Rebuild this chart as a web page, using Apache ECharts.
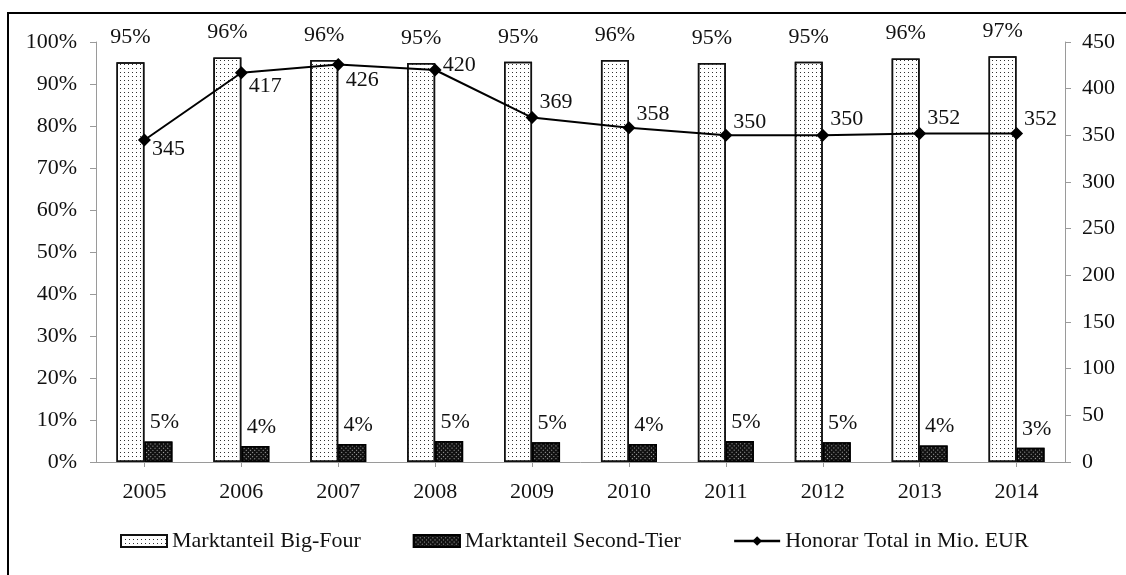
<!DOCTYPE html>
<html>
<head>
<meta charset="utf-8">
<script src="https://cdn.jsdelivr.net/npm/echarts@6/dist/echarts.min.js"></script>
<style>
html,body{margin:0;padding:0;background:#fff;}
#c{width:1126px;height:575px;}
</style>
</head>
<body>
<div id="c"></div>
<script>
var years = ['2005','2006','2007','2008','2009','2010','2011','2012','2013','2014'];
var bigFour = [0.952, 0.963, 0.957, 0.950, 0.953, 0.957, 0.950, 0.953, 0.961, 0.966];
var secondTier = [0.049, 0.038, 0.043, 0.050, 0.047, 0.043, 0.050, 0.047, 0.039, 0.034];
var honorar = [345, 417, 426, 420, 369, 358, 350, 350, 352, 352];
var honorarLabelDy = [9, 13, 16, -5, -15, -14, -13, -16, -15, -14];
var leftTicks = [0, 0.1, 0.2, 0.3, 0.4, 0.5, 0.6, 0.7, 0.8, 0.9, 1.0];
var rightTicks = [0, 50, 100, 150, 200, 250, 300, 350, 400, 450];

var FONT = '"Liberation Serif", "Times New Roman", serif';
var FS = 22;
var AX = '#9a9a9a';

var chart = echarts.init(document.getElementById('c'), null, {renderer: 'canvas'});

var pctLabel = function (p) { return Math.round(p.value * 100) + '%'; };

chart.setOption({
  animation: false,
  backgroundColor: '#fff',
  textStyle: {fontFamily: FONT, color: '#111'},
  graphic: [{
    type: 'rect',
    shape: {x: 8, y: 13, width: 1140, height: 600},
    style: {fill: 'none', stroke: '#000', lineWidth: 2},
    silent: true
  }],
  grid: {left: 96, right: 61, top: 42, bottom: 113, containLabel: false},
  legend: {
    left: 120, top: 530, padding: 0,
    itemWidth: 46, itemHeight: 12, itemGap: 52,
    textStyle: {fontFamily: FONT, fontSize: FS, color: '#111'},
    data: [
      {name: 'Marktanteil Big-Four', icon: 'rect'},
      {name: 'Marktanteil Second-Tier', icon: 'rect'},
      {name: 'Honorar Total in Mio. EUR', lineStyle: {width: 2.5, color: '#000'}}
    ]
  },
  xAxis: {
    type: 'category',
    data: years,
    axisLine: {lineStyle: {color: AX, width: 1}},
    axisTick: {show: true, alignWithLabel: true, length: 5, lineStyle: {color: AX}},
    axisLabel: {fontFamily: FONT, fontSize: FS, color: '#111', margin: 19},
    splitLine: {show: false}
  },
  yAxis: [{
    type: 'value', min: 0, max: 1, interval: 0.1, position: 'left',
    axisLine: {show: true, lineStyle: {color: AX, width: 1}},
    axisTick: {show: true, length: 6, lineStyle: {color: AX}},
    axisLabel: {fontFamily: FONT, fontSize: FS, color: '#111', margin: 19,
      formatter: function (v) { return Math.round(v * 100) + '%'; }},
    splitLine: {show: false}
  }, {
    type: 'value', min: 0, max: 450, interval: 50, position: 'right',
    axisLine: {show: true, lineStyle: {color: AX, width: 1}},
    axisTick: {show: true, length: 6, lineStyle: {color: AX}},
    axisLabel: {fontFamily: FONT, fontSize: FS, color: '#111', margin: 17},
    splitLine: {show: false}
  }],
  series: [{
    name: 'Marktanteil Big-Four',
    type: 'bar',
    yAxisIndex: 0,
    data: bigFour,
    barWidth: 28,
    barGap: '0%',
    itemStyle: {
      color: '#fff', borderColor: '#111', borderWidth: 1.5,
      decal: {symbol: 'rect', symbolSize: 1, color: '#333',
        dashArrayX: [1, 3], dashArrayY: [1, 3], rotation: 0}
    },
    label: {show: true, position: 'top', distance: 14, fontFamily: FONT, fontSize: FS, color: '#111',
      formatter: pctLabel}
  }, {
    name: 'Marktanteil Second-Tier',
    type: 'bar',
    yAxisIndex: 0,
    data: secondTier,
    barWidth: 28,
    barGap: '0%',
    itemStyle: {
      color: '#111', borderColor: '#000', borderWidth: 1.5,
      decal: {symbol: 'rect', symbolSize: 1, color: '#aaa',
        dashArrayX: [1, 2], dashArrayY: [1, 2], rotation: 0.785}
    },
    label: {show: true, position: 'top', distance: 8, fontFamily: FONT, fontSize: FS, color: '#111',
      formatter: pctLabel, offset: [6, 0]}
  }, {
    name: 'Honorar Total in Mio. EUR',
    type: 'line',
    yAxisIndex: 1,
    data: honorar.map(function (v, i) {
      return {value: v, label: {offset: [0, honorarLabelDy[i]]}};
    }),
    symbol: 'diamond',
    symbolSize: 13,
    lineStyle: {color: '#000', width: 2},
    itemStyle: {color: '#000'},
    label: {show: true, position: 'right', distance: 1, fontFamily: FONT, fontSize: FS, color: '#111'},
    z: 5
  }]
});
</script>
</body>
</html>
